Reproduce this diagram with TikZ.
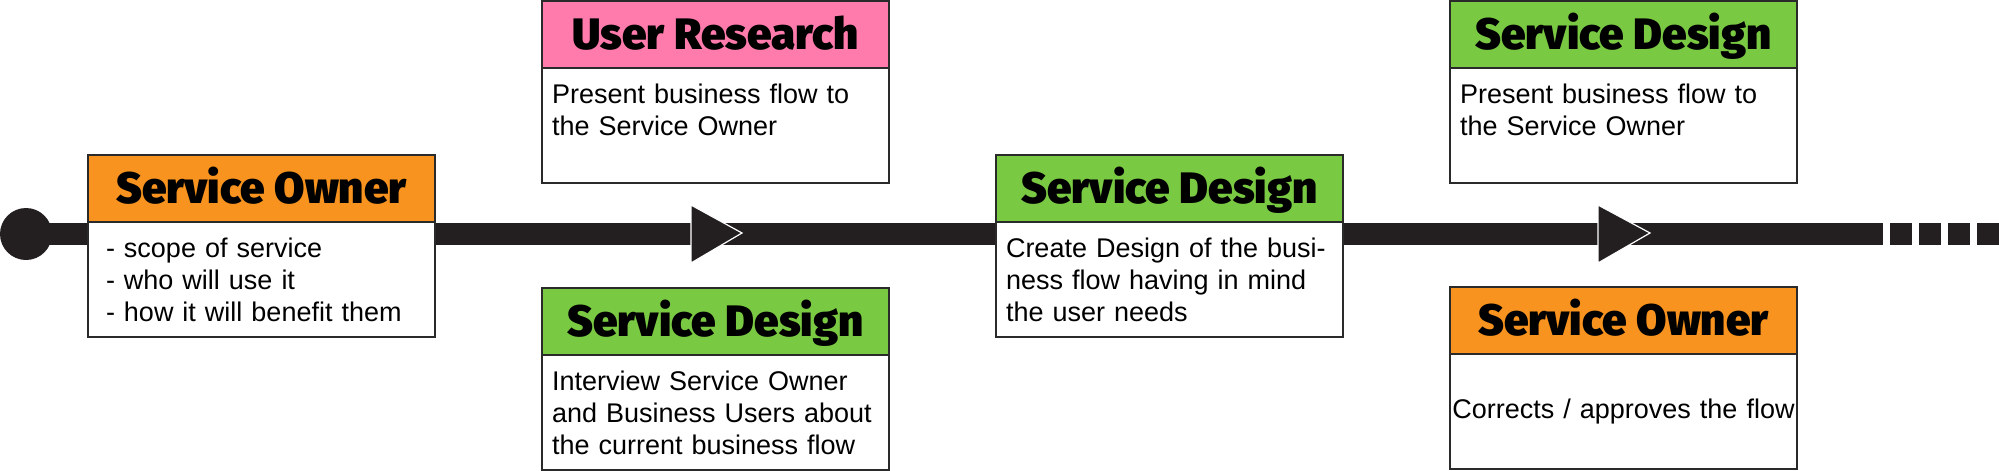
\documentclass[tikz,border=0pt]{standalone}
\usepackage{fontspec}
\setmainfont{Liberation Sans}
\newfontfamily\headfont{Fira Sans Black}
\definecolor{sorange}{HTML}{F7931E}
\definecolor{spink}{HTML}{FF7BAC}
\definecolor{sgreen}{HTML}{7AC943}
\definecolor{sline}{HTML}{231F20}
\definecolor{sedge}{HTML}{2A2A2A}
\begin{document}
\begin{tikzpicture}[x=0.5pt,y=-0.5pt,
  head/.style={draw=sedge, line width=0.8pt, outer sep=0pt, inner sep=0pt,
    minimum width=173.5pt, minimum height=33.5pt, anchor=north west,
    text height=15.2pt, text depth=0pt,
    font=\headfont\fontsize{22}{24}\selectfont},
  body/.style={draw=sedge, line width=0.8pt, fill=white, outer sep=0pt,
    inner ysep=0pt, inner xsep=5pt, text width=163.5pt,
    minimum width=173.5pt, minimum height=57.5pt, anchor=north, align=left,
    font=\fontsize{13.5}{16}\selectfont},
  track/.style={draw=sline, line width=11pt},
  tri/.style={fill=sline, draw=white, line width=0.6pt, line join=miter}
]
\useasboundingbox (0,0) rectangle (1999,471);

% timeline
\node[circle, fill=sline, minimum size=26pt, inner sep=0pt] (start) at (26,234) {};
\coordinate (solidend) at (1883,234);
\coordinate (dstart) at (1890,234);
\coordinate (lineend) at (1999,234);
\draw[track] (start.center) -- (solidend);
\draw[track, dash pattern=on 11pt off 3.5pt] (dstart) -- (lineend);

% step 1
\node[head, fill=sorange] (hA) at (88,155) {Service Owner};
\node[body, inner xsep=9pt, text width=155.5pt] (bA) at (hA.south)
  {- scope of service\\- who will use it\\- how it will benefit them};

% step 2 top
\node[head, fill=spink] (hB) at (542,1) {User Research};
\node[body] (bB) at (hB.south)
  {Present business flow to\\the Service Owner\\\mbox{}};

% step 2 bottom
\node[head, fill=sgreen] (hC) at (542,288) {Service Design};
\node[body] (bC) at (hC.south)
  {Interview Service Owner\\and Business Users about\\the current business flow};

% step 3
\node[head, fill=sgreen] (hD) at (996,155) {Service Design};
\node[body] (bD) at (hD.south)
  {Create Design of the busi-\\ness flow having in mind\\the user needs};

% step 4 top
\node[head, fill=sgreen] (hE) at (1450,1) {Service Design};
\node[body] (bE) at (hE.south)
  {Present business flow to\\the Service Owner\\\mbox{}};

% step 4 bottom
\node[head, fill=sorange] (hF) at (1450,287) {Service Owner};
\node[body, align=center, inner xsep=0pt, text width=173.5pt] (bF) at (hF.south)
  {Corrects / approves the flow};

% direction marks
\coordinate (m1) at (691,234);
\coordinate (m2) at (1598,234);
\draw[tri] (m1) ++(0,-29) -- ++(51,28) -- ++(-51,30) -- cycle;
\draw[tri] (m2) ++(0,-29) -- ++(52,28) -- ++(-52,30) -- cycle;
\end{tikzpicture}
\end{document}
